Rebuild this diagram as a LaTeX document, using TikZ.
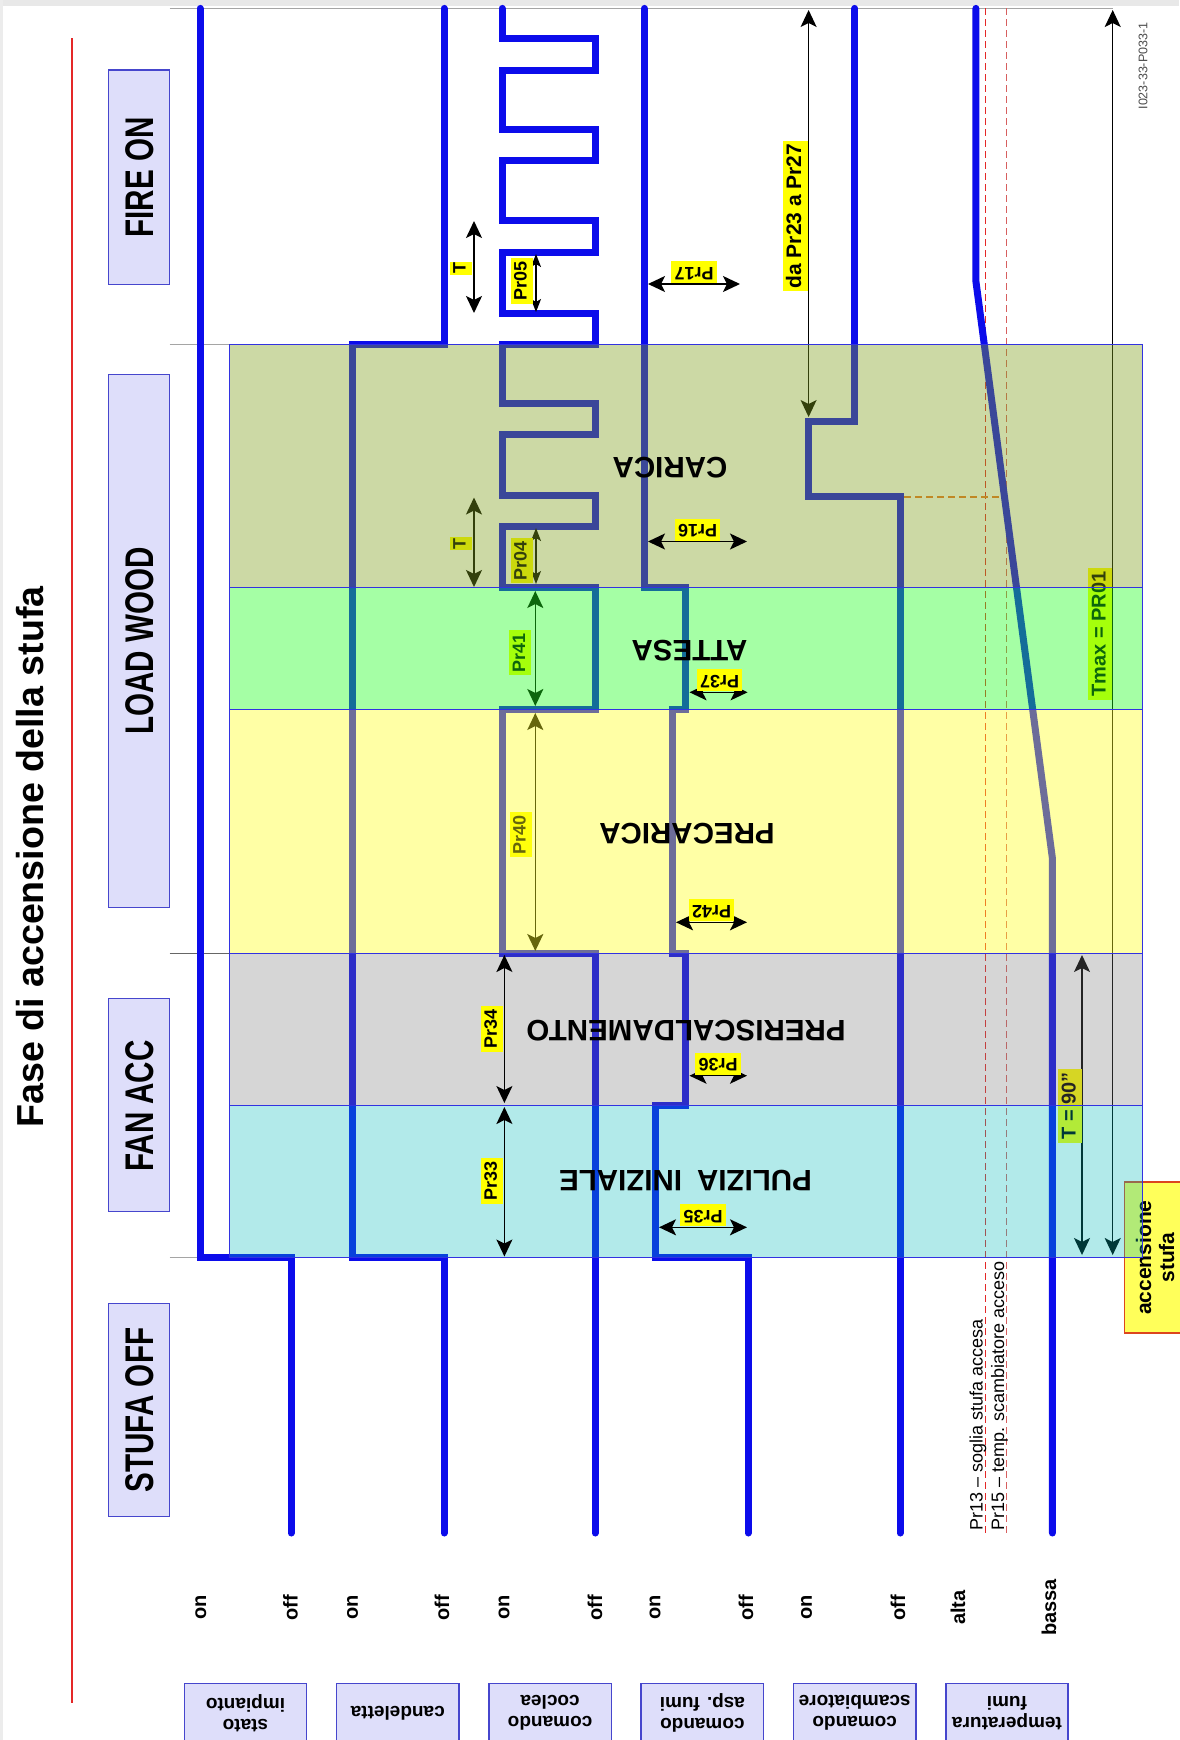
\documentclass[tikz,border=0pt]{standalone}
\usepackage{fontspec}
\setmainfont{Liberation Sans}
\newfontfamily\phasefont{Liberation Sans}[FakeStretch=0.74]
\usetikzlibrary{arrows.meta}
\definecolor{sig}{RGB}{12,12,235}
\definecolor{regb}{RGB}{50,50,225}
\definecolor{boxfill}{RGB}{222,222,250}
\definecolor{boxdraw}{RGB}{70,70,205}
\definecolor{lblyel}{RGB}{255,255,0}
\definecolor{caricaC}{RGB}{128,160,30}
\definecolor{attesaC}{RGB}{32,255,32}
\definecolor{precaricaC}{RGB}{255,255,32}
\definecolor{preriscC}{RGB}{122,122,122}
\definecolor{puliziaC}{RGB}{0,188,188}
\definecolor{redl}{RGB}{228,40,40}
\definecolor{redl2}{RGB}{215,95,95}
\definecolor{orangel}{RGB}{235,120,40}
\definecolor{gridg}{RGB}{165,165,165}
\definecolor{accfill}{RGB}{255,255,90}
\definecolor{accdraw}{RGB}{220,70,30}
\tikzset{
  sigline/.style={draw=sig, line width=7pt, line cap=round, line join=miter},
  gridline/.style={draw=gridg, line width=1.6pt},
  phasebox/.style={draw=boxdraw, fill=boxfill, line width=1.5pt},
  phasetext/.style={font=\phasefont\bfseries\fontsize{40pt}{44pt}\selectfont, inner sep=0pt},
  rowtext/.style={font=\bfseries\fontsize{19pt}{21.5pt}\selectfont, align=center, inner sep=0pt},
  levtext/.style={font=\bfseries\fontsize{20pt}{22pt}\selectfont, inner sep=0pt, rotate=90},
  phname/.style={font=\bfseries\fontsize{29.5pt}{32pt}\selectfont, inner sep=0pt, rotate=180},
  lbl/.style={fill=lblyel, inner xsep=3pt, inner ysep=2.5pt, text height=13.5pt, text depth=3.5pt, font=\bfseries\fontsize{18pt}{20pt}\selectfont},
  lblb/.style={fill=lblyel, inner xsep=3pt, inner ysep=2.5pt, text height=15pt, text depth=4pt, font=\bfseries\fontsize{20pt}{22pt}\selectfont},
  dimarrow/.style={line width=1.5pt, {Stealth[length=17pt,width=16pt,inset=4pt]}-{Stealth[length=17pt,width=16pt,inset=4pt]}},
  smallarrow/.style={line width=1.4pt, {Stealth[length=13pt,width=10pt,inset=3pt]}-{Stealth[length=13pt,width=10pt,inset=3pt]}},
  regborder/.style={draw=regb, line width=1.3pt},
  rowbox/.style={draw=boxdraw, fill=boxfill, line width=1.5pt}
}
\begin{document}
\begin{tikzpicture}[x=1pt,y=-1pt]
\useasboundingbox (0,0) rectangle (1179,1740);
\fill[white] (0,0) rectangle (1179,1740);
\fill[gray!18] (0,0) rectangle (1179,6);
\fill[gray!15] (0,0) rectangle (3,1740);

% red line and title
\draw[redl, line width=2pt] (71.6,38) -- (71.6,1703);
\node[rotate=90, font=\bfseries\fontsize{37.6pt}{42pt}\selectfont, inner sep=0pt] (title) at (30,857) {Fase di accensione della stufa};

% phase boxes
\draw[phasebox] (108.3,70) rectangle (169.5,284.4);
\node[phasetext, rotate=90] (pFire) at (140,177.4) {FIRE ON};
\draw[phasebox] (108.3,374.3) rectangle (169.5,907.7);
\node[phasetext, rotate=90] (pLoad) at (140,641) {LOAD WOOD};
\draw[phasebox] (108.3,998.6) rectangle (169.5,1211.7);
\node[phasetext, rotate=90] (pFan) at (140,1106) {FAN ACC};
\draw[phasebox] (108.3,1303.3) rectangle (169.5,1516.7);
\node[phasetext, rotate=90] (pOff) at (140,1410) {STUFA OFF};

% bottom row boxes
\draw[rowbox] (184.3,1683.3) rectangle (306.7,1746);
\node[rowtext, rotate=180] (r1) at (245.5,1713) {stato\\impianto};
\draw[rowbox] (336.6,1683.3) rectangle (459.0,1746);
\node[rowtext, rotate=180] (r2) at (397.8,1713) {candeletta};
\draw[rowbox] (488.9,1683.3) rectangle (611.3,1746);
\node[rowtext, rotate=180] (r3) at (550.1,1713) {comando\\coclea};
\draw[rowbox] (641.2,1683.3) rectangle (763.6,1746);
\node[rowtext, rotate=180] (r4) at (702.4,1713) {comando\\asp. fumi};
\draw[rowbox] (793.5,1683.3) rectangle (915.9,1746);
\node[rowtext, rotate=180] (r5) at (854.7,1713) {comando\\scambiatore};
\draw[rowbox] (945.8,1683.3) rectangle (1068.2,1746);
\node[rowtext, rotate=180] (r6) at (1007,1713) {temperatura\\fumi};

% level labels
\node[levtext] (l1) at (200.8,1607.5) {on};
\node[levtext] (l2) at (290.5,1607.5) {off};
\node[levtext] (l3) at (352.5,1607.5) {on};
\node[levtext] (l4) at (442,1607.5) {off};
\node[levtext] (l5) at (504,1607.5) {on};
\node[levtext] (l6) at (595,1607.5) {off};
\node[levtext] (l7) at (655,1607.5) {on};
\node[levtext] (l8) at (746,1607.5) {off};
\node[levtext] (l9) at (806.6,1607.5) {on};
\node[levtext] (l10) at (898,1607.5) {off};
\node[levtext] (l11) at (958,1607.5) {alta};
\node[levtext] (l12) at (1049,1607.5) {bassa};

% grid lines
\draw[gridline] (169.5,8.4) -- (1113,8.4);
\draw[gridline] (169.5,344.4) -- (229.6,344.4);
\draw[gridline, draw=gray!80!black, line width=1.2pt] (169.5,953.2) -- (229.6,953.2);
\draw[gridline] (169.5,1257.3) -- (229.6,1257.3);

% dashed thresholds
\draw[redl, line width=1.3pt, dash pattern=on 7pt off 4pt] (985.5,8.4) -- (985.5,1533);
\draw[redl2, line width=1.3pt, dash pattern=on 7pt off 4pt] (1006.5,8.4) -- (1006.5,1533);
\draw[orangel, line width=1.6pt, dash pattern=on 7pt off 4pt] (904,496.7) -- (1006.5,496.7);

% signals
\draw[sigline] (291,1533) -- (291,1257.3) -- (200,1257.3) -- (200,8.4);
\draw[sigline] (444,1533) -- (444,1257.3) -- (352,1257.3) -- (352,344.4) -- (444,344.4) -- (444,8.4);
\draw[sigline] (595,1533) -- (595,953.2) -- (502,953.2) -- (502,709.3) -- (595,709.3) -- (595,587.5)
  -- (502,587.5) -- (502,526.2) -- (595,526.2) -- (595,495.6) -- (502,495.6) -- (502,434.4)
  -- (595,434.4) -- (595,403.7) -- (502,403.7) -- (502,344.4) -- (595,344.4) -- (595,313.8)
  -- (502,313.8) -- (502,252.6) -- (595,252.6) -- (595,220.8) -- (502,220.8) -- (502,160.7)
  -- (595,160.7) -- (595,129) -- (502,129) -- (502,70) -- (595,70) -- (595,38.3) -- (502,38.3) -- (502,8.4);
\draw[sigline] (748,1533) -- (748,1257.3) -- (655.4,1257.3) -- (655.4,1105.3) -- (685.7,1105.3)
  -- (685.7,953.2) -- (672,953.2) -- (672,709.3) -- (685.7,709.3) -- (685.7,587.5) -- (644.3,587.5) -- (644.3,8.4);
\draw[sigline] (900,1533) -- (900,496.7) -- (808.6,496.7) -- (808.6,421) -- (854.8,421) -- (854.8,8.4);
\draw[sigline] (1052.4,1533) -- (1052.4,858.3) -- (975.9,281.3) -- (975.9,8.4);

% threshold texts and code
\node[rotate=90, anchor=west, font=\fontsize{18pt}{20pt}\selectfont, inner sep=0pt] (pr13) at (978,1531) {Pr13 – soglia stufa accesa};
\node[rotate=90, anchor=west, font=\fontsize{18pt}{20pt}\selectfont, inner sep=0pt] (pr15) at (999.5,1531) {Pr15 – temp. scambiatore acceso};
\node[rotate=90, font=\fontsize{12.5pt}{14pt}\selectfont, text=black!70, inner sep=0pt] (code) at (1143,66) {I023-33-P033-1};

% accensione box
\draw[accdraw, fill=accfill, line width=1.8pt] (1124.4,1181.7) rectangle (1192,1333.3);
\node[rotate=90, align=center, font=\bfseries\fontsize{21pt}{23pt}\selectfont, inner sep=0pt] (acc) at (1155,1257.5) {accensione\\stufa};

% annotations below regions
\coordinate (a05t) at (536,254); \coordinate (a05b) at (536,312);
\draw[smallarrow] (a05t) -- (a05b);
\node[lbl, rotate=90] (lPr05) at (521.5,281) {Pr05};
\coordinate (aT1t) at (474,221); \coordinate (aT1b) at (474,313);
\draw[dimarrow] (aT1t) -- (aT1b);
\node[lbl, rotate=90, inner xsep=1pt] (lT1) at (460.5,268) {T};
\coordinate (aT2t) at (474,497.5); \coordinate (aT2b) at (474,587);
\draw[dimarrow] (aT2t) -- (aT2b);
\node[lbl, rotate=90, inner xsep=1pt] (lT2) at (460.5,543.5) {T};
\coordinate (a04t) at (536,528); \coordinate (a04b) at (536,584);
\draw[smallarrow] (a04t) -- (a04b);
\node[lbl, rotate=90] (lPr04) at (521.5,560.7) {Pr04};
\coordinate (a41t) at (535.3,591); \coordinate (a41b) at (535.3,706);
\draw[dimarrow] (a41t) -- (a41b);
\node[lbl, rotate=90] (lPr41) at (520,652.5) {Pr41};
\coordinate (a40t) at (535.3,713); \coordinate (a40b) at (535.3,951);
\draw[dimarrow] (a40t) -- (a40b);
\node[lbl, rotate=90] (lPr40) at (520.5,834.5) {Pr40};
\coordinate (a23t) at (808.6,10); \coordinate (a23b) at (808.6,417);
\draw[dimarrow] (a23t) -- (a23b);
\node[lbl, rotate=90, text height=15.5pt, text depth=4.5pt, font=\bfseries\fontsize{21pt}{23pt}\selectfont] (lPr23) at (795.5,216) {da Pr23 a Pr27};
\coordinate (a90t) at (1082,955); \coordinate (a90b) at (1082,1255);
\draw[dimarrow] (a90t) -- (a90b);
\node[lblb, rotate=90] (lT90) at (1070,1106) {T = 90"};
\coordinate (amxt) at (1112.7,10); \coordinate (amxb) at (1112.7,1255);
\draw[dimarrow, line width=1.3pt] (amxt) -- (amxb);
\node[lblb, rotate=90] (lTmax) at (1100,634) {Tmax = PR01};

% regions (translucent)
\fill[caricaC, fill opacity=0.4] (229.6,344.4) rectangle (1142.8,587.5);
\fill[attesaC, fill opacity=0.4] (229.6,587.5) rectangle (1142.8,709.3);
\fill[precaricaC, fill opacity=0.4] (229.6,709.3) rectangle (1142.8,953.2);
\fill[preriscC, fill opacity=0.3] (229.6,953.2) rectangle (1142.8,1105.3);
\fill[puliziaC, fill opacity=0.3] (229.6,1105.3) rectangle (1142.8,1257.3);
\draw[regborder] (229.6,344.4) rectangle (1142.8,1257.3);
\draw[regborder] (229.6,587.5) -- (1142.8,587.5);
\draw[regborder] (229.6,709.3) -- (1142.8,709.3);
\draw[regborder] (229.6,953.2) -- (1142.8,953.2);
\draw[regborder] (229.6,1105.3) -- (1142.8,1105.3);

% phase names
\node[phname] (nCarica) at (670,468) {CARICA};
\node[phname] (nAttesa) at (689.5,650.6) {ATTESA};
\node[phname] (nPrecarica) at (687,833.6) {PRECARICA};
\node[phname] (nPrerisc) at (686,1031) {PRERISCALDAMENTO};
\node[phname] (nPulizia) at (685.5,1180) {PULIZIA\hspace{15pt}INIZIALE};

% annotations above regions
\coordinate (a34t) at (504.4,955); \coordinate (a34b) at (504.4,1103);
\draw[dimarrow] (a34t) -- (a34b);
\node[lbl, rotate=90] (lPr34) at (491.8,1029) {Pr34};
\coordinate (a33t) at (504.4,1107); \coordinate (a33b) at (504.4,1256.5);
\draw[dimarrow] (a33t) -- (a33b);
\node[lbl, rotate=90] (lPr33) at (491.8,1181) {Pr33};

\coordinate (a35l) at (659,1227.3); \coordinate (a35r) at (747,1227.3);
\draw[dimarrow] (a35l) -- (a35r);
\node[lbl, rotate=180] (lPr35) at (703,1215) {Pr35};
\coordinate (a36l) at (689.5,1075.7); \coordinate (a36r) at (747,1075.7);
\draw[dimarrow] (a36l) -- (a36r);
\node[lbl, rotate=180] (lPr36) at (718,1063.5) {Pr36};
\coordinate (a42l) at (676,922.3); \coordinate (a42r) at (747,922.3);
\draw[dimarrow] (a42l) -- (a42r);
\node[lbl, rotate=180] (lPr42) at (711.5,910) {Pr42};
\coordinate (a37l) at (689.5,692.3); \coordinate (a37r) at (747.6,692.3);
\draw[dimarrow] (a37l) -- (a37r);
\node[lbl, rotate=180] (lPr37) at (719.5,680) {Pr37};
\coordinate (a16l) at (648,541.5); \coordinate (a16r) at (747,541.5);
\draw[dimarrow] (a16l) -- (a16r);
\node[lbl, rotate=180] (lPr16) at (697.5,529.5) {Pr16};
\coordinate (a17l) at (648,284); \coordinate (a17r) at (740,284);
\draw[dimarrow] (a17l) -- (a17r);
\node[lbl, rotate=180] (lPr17) at (694,272) {Pr17};
\end{tikzpicture}
\end{document}
